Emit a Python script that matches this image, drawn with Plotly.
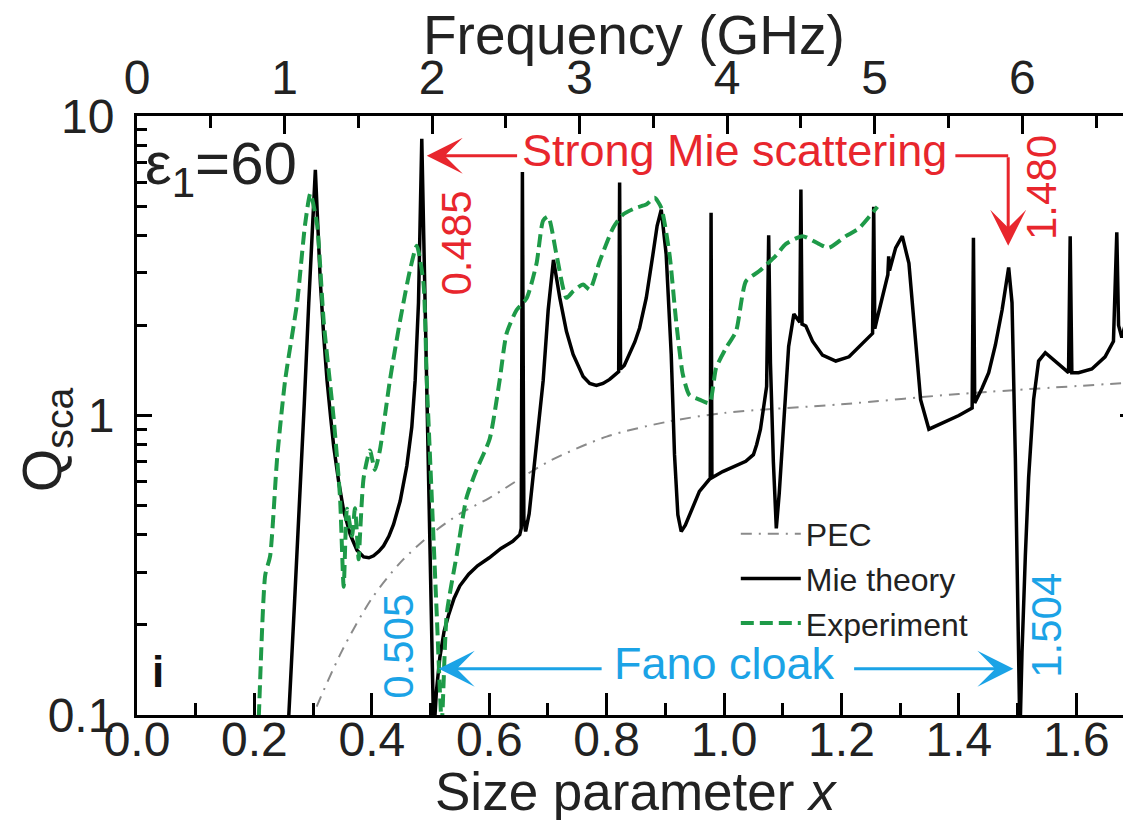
import math
import plotly.graph_objects as go

# ---------------- data ----------------
# Mie theory, Q_sca versus size parameter x
mie_x = [0.2550, 0.2586, 0.2680, 0.2778, 0.2850, 0.2926, 0.2990, 0.3038,
         0.3080, 0.3124, 0.3180, 0.3237, 0.3300, 0.3351, 0.3436, 0.3521, 0.3633,
         0.3747, 0.3861, 0.3950, 0.4030, 0.4120, 0.4200, 0.4290, 0.4370, 0.4483,
         0.4596, 0.4681, 0.4738, 0.4795, 0.4851, 0.4936, 0.5021, 0.5055,
         0.5100, 0.5157, 0.5230, 0.5305, 0.5400, 0.5500, 0.5650, 0.5800, 0.6000,
         0.6200, 0.6400, 0.6520, 0.6545, 0.6565, 0.6590, 0.6620,
         0.6680, 0.6777, 0.6919, 0.7004, 0.7094,
         0.7202, 0.7315, 0.7429, 0.7599, 0.7712, 0.7825, 0.7938, 0.8051, 0.8165,
         0.8205, 0.8221, 0.8237,
         0.8300, 0.8391, 0.8480, 0.8561, 0.8675, 0.8788, 0.8860, 0.8930, 0.9014,
         0.9100, 0.9156, 0.9213, 0.9270, 0.9340, 0.9410, 0.9580, 0.9750, 0.9765,
         0.9779, 0.9793,
         0.9977, 1.0131, 1.0370, 1.0500, 1.0556, 1.0620, 1.0678, 1.0725, 1.0760,
         1.0790, 1.0840, 1.0890, 1.0940, 1.0990, 1.1040, 1.1100, 1.1189, 1.1290,
         1.1309, 1.1328, 1.1393, 1.1507, 1.1677, 1.1903, 1.2129, 1.2299, 1.2469,
         1.2530, 1.2549, 1.2568, 1.2611, 1.2753, 1.2790, 1.2804, 1.2818, 1.2923,
         1.3036, 1.3149, 1.3263, 1.3348, 1.3489, 1.3716, 1.3999, 1.4226, 1.4248,
         1.4270, 1.4396, 1.4508, 1.4622, 1.4736, 1.4792, 1.4848, 1.4905, 1.4962,
         1.5040, 1.5075, 1.5132, 1.5188, 1.5273, 1.5358, 1.5472, 1.5642, 1.5868,
         1.5896, 1.5924, 1.6038, 1.6265, 1.6490, 1.6633, 1.6690, 1.6720, 1.6775,
         1.6865, 1.7014]
mie_q = [0.085, 0.100, 0.230, 0.534, 1.10, 2.38, 4.20, 6.61,
         4.30, 2.77, 1.85, 1.31, 0.98, 0.788, 0.600, 0.480, 0.400,
         0.355, 0.337, 0.335, 0.340, 0.352, 0.367, 0.395, 0.433, 0.518,
         0.678, 0.915, 1.31, 2.38, 8.40, 1.31, 0.217, 0.085,
         0.120, 0.155, 0.190, 0.215, 0.245, 0.270, 0.295, 0.315, 0.335,
         0.360, 0.380, 0.400, 0.420, 6.50, 0.450, 0.410,
         0.470, 0.720, 1.31, 2.25, 3.31,
         2.47, 1.91, 1.60, 1.35, 1.28, 1.26, 1.28, 1.32, 1.38,
         1.40, 6.00, 1.43,
         1.47, 1.60, 1.76, 1.96, 2.47, 3.45, 4.30, 4.87, 3.45,
         1.60, 0.740, 0.466, 0.410, 0.430, 0.466, 0.558, 0.612, 0.615,
         4.75, 0.620,
         0.650, 0.670, 0.703, 0.740, 0.800, 0.900, 1.06, 1.25, 4.00,
         1.50, 0.700, 0.420, 0.550, 0.800, 1.10, 1.70, 2.18, 2.05,
         5.68, 2.02, 1.99, 1.77, 1.59, 1.52, 1.57, 1.69, 1.82,
         1.88, 4.98, 1.95, 2.12, 2.77, 2.95, 3.40, 3.05, 3.63,
         3.97, 3.22, 1.77, 1.13, 0.900, 0.944, 1.00, 1.06, 3.92,
         1.10, 1.235, 1.39, 1.72, 2.25, 2.69, 3.12, 2.38, 0.720,
         0.085, 0.161, 0.340, 0.620, 1.13, 1.52, 1.62, 1.52, 1.39,
         3.97, 1.39, 1.39, 1.43, 1.57, 1.77, 4.09, 2.00, 1.82,
         2.12, 2.31]

# Experiment
exp_x = [0.2060, 0.2076, 0.2184, 0.2268, 0.2387, 0.2523, 0.2727, 0.2863, 0.2953,
         0.3067, 0.3181, 0.3351, 0.3458, 0.3521, 0.3577, 0.3662, 0.3713, 0.3776,
         0.3798, 0.3861, 0.3968, 0.4053, 0.4138, 0.4308, 0.4477, 0.4647, 0.4766,
         0.4880, 0.4936, 0.5021, 0.5106, 0.5191, 0.5276, 0.5446, 0.5616, 0.5786,
         0.6007, 0.6177, 0.6296, 0.6466, 0.6636, 0.6806, 0.6919, 0.7004, 0.7145,
         0.7315, 0.7429, 0.7599, 0.7711, 0.7881, 0.8109, 0.8279, 0.8505, 0.8675,
         0.8816, 0.8930, 0.9071, 0.9184, 0.9298, 0.9410, 0.9580, 0.9750, 0.9864,
         1.0034, 1.0204, 1.0374, 1.0595, 1.0884, 1.1054, 1.1337, 1.1614, 1.1784,
         1.2073, 1.2294, 1.2612]
exp_q = [0.085, 0.10, 0.293, 0.34, 0.721, 1.31, 2.38, 4.34, 5.51,
         4.34, 2.05, 0.973, 0.534, 0.268, 0.488, 0.396, 0.49, 0.331,
         0.396, 0.62, 0.764, 0.658, 0.767, 1.31, 2.05, 3.04, 3.69,
         2.77, 1.31, 0.534, 0.217, 0.095, 0.217, 0.342, 0.534, 0.66,
         0.835, 1.31, 1.88, 2.25, 2.46, 3.22, 4.48, 4.61, 3.45,
         2.47, 2.60, 2.74, 2.63, 3.27, 4.23, 4.69, 4.94, 5.06,
         5.33, 4.94, 3.45, 2.06, 1.37, 1.17, 1.13, 1.10, 1.44,
         1.68, 1.91, 2.81, 3.03, 3.42, 3.74, 3.97, 3.74, 3.63,
         3.97, 4.21, 4.98]

# Perfect electric conductor (PEC)
pec_x = [0.29, 0.30, 0.35, 0.40, 0.45, 0.50, 0.55, 0.60, 0.70, 0.80, 0.90,
         1.00, 1.20, 1.40, 1.70]
pec_q = [0.088, 0.10, 0.165, 0.245, 0.325, 0.40, 0.47, 0.53, 0.70, 0.85, 0.95,
         1.02, 1.09, 1.18, 1.29]

x_ticks = [0.0, 0.2, 0.4, 0.6, 0.8, 1.0, 1.2, 1.4, 1.6]
freq_ticks = [0, 1, 2, 3, 4, 5, 6]
y_ticks = [0.1, 1, 10]
y_tick_text = ["0.1", "1", "10"]
y_minor = [0.2, 0.3, 0.4, 0.5, 0.6, 0.7, 0.8, 0.9, 2, 3, 4, 5, 6, 7, 8, 9]
x_per_ghz = 0.25132           # size parameter per GHz (top axis)
x_range = [0.0, 1.7]

mie_peaks = [0.485, 1.480]     # strong Mie scattering
fano_dips = [0.505, 1.504]     # Fano cloak

# annotation anchor values (data units)
strong_label = (1.017, 7.37)
strong_left_arrow = (0.4936, 0.65)       # tip x, tail x
strong_right = (1.394, 1.484, 3.69)      # line start x, corner x, tip Q
fano_label = (1.0, 0.1426)
fano_left_arrow = (0.514, 0.794)          # tip x, tail x
fano_right_arrow = (1.4928, 1.219)        # tip x, tail x
peak_label_pos = [(0.545, 3.78), (1.542, 5.76)]
dip_label_pos = [(0.446, 0.170), (1.550, 0.200)]

RED = "#e8262d"
BLUE = "#1ba3e6"
GREEN = "#1e9a48"
FONT = "Liberation Sans, Arial, Helvetica, sans-serif"
L = math.log10

fig = go.Figure()
fig.add_trace(go.Scatter(x=pec_x, y=pec_q, mode="lines", name="PEC",
                         line=dict(color="#8a8a8a", width=2, dash="11px,7px,2px,7px",
                                   shape="spline", smoothing=0.8)))
fig.add_trace(go.Scatter(x=mie_x, y=mie_q, mode="lines", name="Mie theory",
                         line=dict(color="black", width=3.5)))
fig.add_trace(go.Scatter(x=exp_x, y=exp_q, mode="lines", name="Experiment",
                         line=dict(color=GREEN, width=4, dash="13px,6px",
                                   shape="spline", smoothing=0.6)))
# same measurement expressed in GHz, carried by the top axis (invisible)
fig.add_trace(go.Scatter(x=[v / x_per_ghz for v in exp_x], y=exp_q, xaxis="x2",
                         yaxis="y", mode="lines", showlegend=False, hoverinfo="skip",
                         line=dict(color="rgba(0,0,0,0)", width=0)))

axis_common = dict(showline=True, linecolor="black", linewidth=3, ticks="inside",
                   tickcolor="black", tickwidth=3, showgrid=False, zeroline=False,
                   tickfont=dict(family=FONT, size=48, color="#222"))

fig.update_layout(
    width=1131, height=820,
    margin=dict(l=129, r=1, t=108, b=113),
    paper_bgcolor="white", plot_bgcolor="white",
    font=dict(family=FONT, color="#222"),
    xaxis=dict(range=x_range, tickvals=x_ticks, ticktext=[f"{v:.1f}" for v in x_ticks],
               ticklen=22, mirror=False, ticklabelstandoff=-20,
               minor=dict(dtick=0.1, tick0=0, ticks="inside", ticklen=12,
                          tickwidth=3, tickcolor="black"),
               **axis_common),
    xaxis2=dict(range=[x_range[0] / x_per_ghz, x_range[1] / x_per_ghz], overlaying="x",
                side="top", anchor="y", tickvals=freq_ticks, ticklen=18,
                minor=dict(dtick=0.5, tick0=0, ticks="inside", ticklen=12,
                           tickwidth=3, tickcolor="black"),
                **axis_common),
    yaxis=dict(type="log", range=[-1, 1], tickvals=y_ticks, ticktext=y_tick_text,
               ticklen=15, mirror="ticks", ticklabelstandoff=10,
               minor=dict(tickvals=y_minor, ticks="inside", ticklen=10,
                          tickwidth=3, tickcolor="black"),
               **axis_common),
    showlegend=True,
    legend=dict(x=0.600, y=0.348, xanchor="left", yanchor="top",
                bgcolor="rgba(0,0,0,0)", font=dict(family=FONT, size=32, color="#222"),
                itemwidth=60, tracegroupgap=0),
)

ann = []
# axis titles
ann.append(dict(text="Frequency (GHz)", xref="paper", yref="paper", x=0.498, y=1.135,
                showarrow=False, font=dict(size=55, color="#222"), xanchor="center",
                yanchor="middle"))
ann.append(dict(text="Size parameter <i>x</i>", xref="paper", yref="paper", x=0.501,
                y=-0.128, showarrow=False, font=dict(size=53, color="#222"),
                xanchor="center", yanchor="middle"))
ann.append(dict(text="Q<sub>sca</sub>", xref="paper", yref="paper", x=-0.092, y=0.459,
                showarrow=False, textangle=-90, font=dict(size=56, color="#222"),
                xanchor="center", yanchor="middle"))
# panel texts
ann.append(dict(text="ε<sub>1</sub>=60", x=0.0110, y=L(6.72), xref="x", yref="y",
                showarrow=False, xanchor="left", yanchor="middle",
                font=dict(size=60, color="#222")))
ann.append(dict(text="<b>i</b>", x=0.036, y=L(0.140), xref="x", yref="y",
                showarrow=False, font=dict(size=44, color="#111")))
# strong Mie scattering
ann.append(dict(text="Strong Mie scattering", x=strong_label[0], y=L(strong_label[1]),
                xref="x", yref="y", showarrow=False, yshift=5,
                font=dict(size=45, color=RED)))
arrow_style = dict(xref="x", yref="y", axref="x", ayref="y", showarrow=True,
                   arrowhead=3, arrowsize=2, arrowwidth=3, standoff=0,
                   startstandoff=0, font=dict(size=1))
ann.append(dict(text="", x=strong_left_arrow[0], y=L(strong_label[1]),
                ax=strong_left_arrow[1], ay=L(strong_label[1]), arrowcolor=RED,
                **arrow_style))
ann.append(dict(text="", x=strong_right[1], y=L(strong_right[2]),
                ax=strong_right[1], ay=L(strong_label[1]), arrowcolor=RED,
                **arrow_style))
for v, (px_, py_) in zip(mie_peaks, peak_label_pos):
    ann.append(dict(text=f"{v:.3f}", x=px_, y=L(py_), xref="x", yref="y",
                    showarrow=False, textangle=-90, font=dict(size=42, color=RED)))
# Fano cloak
ann.append(dict(text="Fano cloak", x=fano_label[0], y=L(fano_label[1]), xref="x",
                yref="y", showarrow=False, yshift=5, font=dict(size=45, color=BLUE)))
ann.append(dict(text="", x=fano_left_arrow[0], y=L(fano_label[1]),
                ax=fano_left_arrow[1], ay=L(fano_label[1]), arrowcolor=BLUE,
                **arrow_style))
ann.append(dict(text="", x=fano_right_arrow[0], y=L(fano_label[1]),
                ax=fano_right_arrow[1], ay=L(fano_label[1]), arrowcolor=BLUE,
                **arrow_style))
for v, (px_, py_) in zip(fano_dips, dip_label_pos):
    ann.append(dict(text=f"{v:.3f}", x=px_, y=L(py_), xref="x", yref="y",
                    showarrow=False, textangle=-90, font=dict(size=42, color=BLUE)))

fig.update_layout(annotations=ann)
fig.add_shape(type="line", xref="x", yref="y", x0=strong_right[0], x1=strong_right[1],
              y0=strong_label[1], y1=strong_label[1],
              line=dict(color=RED, width=3))

fig.write_html("out.html")
